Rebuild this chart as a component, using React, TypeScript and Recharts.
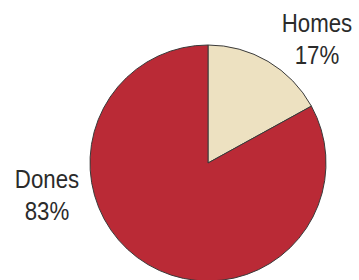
import React from "react";
import { PieChart, Pie, Cell } from "recharts";

const categories = ["Homes", "Dones"];
const values = [17, 83];
const colors = ["#EDE1C1", "#BA2A36"];

const data = categories.map((name, i) => ({ name, value: values[i] }));

// label anchor positions (layout)
const labelPos: Record<string, { x: number; y: number }> = {
  Homes: { x: 317, y: 32 },
  Dones: { x: 47, y: 188 },
};

const renderLabel = (props: any) => {
  const { name, percent } = props;
  const p = labelPos[name];
  if (!p) return null;
  return (
    <g transform={`translate(${p.x},${p.y}) scale(0.89,1)`}>
      <text
        x={0}
        y={0}
        textAnchor="middle"
        fill="#2b2b2b"
        fontSize={25}
        fontFamily="'Liberation Sans', Arial, Helvetica, sans-serif"
      >
        <tspan x={0} dy={0}>{name}</tspan>
        <tspan x={0} dy={32}>{`${Math.round(percent * 100)}%`}</tspan>
      </text>
    </g>
  );
};

export default function App() {
  return (
    <div style={{ position: "fixed", left: 0, top: 0, width: 359, height: 280, background: "#fff" }}>
      <PieChart width={359} height={280} margin={{ top: 0, right: 0, bottom: 0, left: 0 }}>
        <Pie
          data={data}
          dataKey="value"
          nameKey="name"
          cx={208}
          cy={163}
          outerRadius={118}
          startAngle={90}
          endAngle={-270}
          stroke="#3a3a3a"
          strokeWidth={1}
          label={renderLabel}
          labelLine={false}
          isAnimationActive={false}
        >
          {data.map((d, i) => (
            <Cell key={d.name} fill={colors[i]} />
          ))}
        </Pie>
      </PieChart>
    </div>
  );
}
